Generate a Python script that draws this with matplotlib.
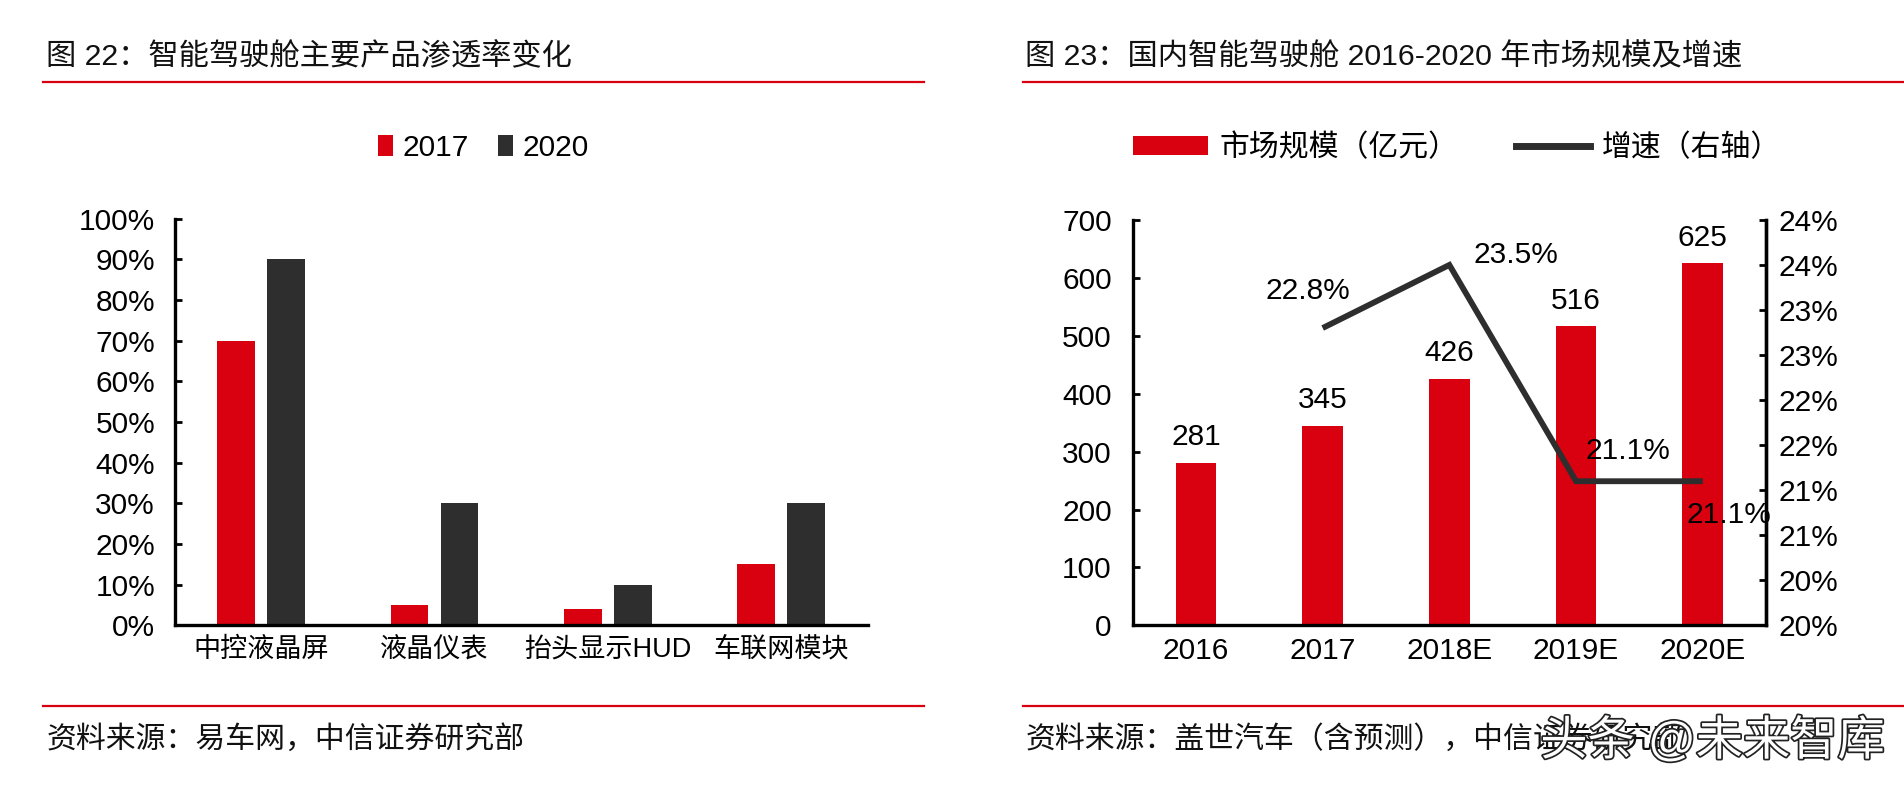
import matplotlib
matplotlib.use("Agg")
import matplotlib.pyplot as plt
import numpy as np
from matplotlib.patches import Patch
from matplotlib.lines import Line2D
import matplotlib.patheffects as pe

plt.rcParams['font.family'] = ['Liberation Sans', 'Noto Sans CJK SC', 'DejaVu Sans']

# ---------------- data ----------------
left_title = "图 22：智能驾驶舱主要产品渗透率变化"
left_source = "资料来源：易车网，中信证券研究部"
left_categories = ["中控液晶屏", "液晶仪表", "抬头显示HUD", "车联网模块"]
left_series_names = ["2017", "2020"]
pen_2017 = [0.70, 0.05, 0.04, 0.15]
pen_2020 = [0.90, 0.30, 0.10, 0.30]
left_yticks = [0.0, 0.1, 0.2, 0.3, 0.4, 0.5, 0.6, 0.7, 0.8, 0.9, 1.0]
left_ytick_labels = ["0%", "10%", "20%", "30%", "40%", "50%", "60%", "70%", "80%", "90%", "100%"]

right_title = "图 23：国内智能驾驶舱 2016-2020 年市场规模及增速"
right_source = "资料来源：盖世汽车（含预测），中信证券研究部"
years = ["2016", "2017", "2018E", "2019E", "2020E"]
market_size = [281, 345, 426, 516, 625]
growth_years = ["2017", "2018E", "2019E", "2020E"]
growth = [0.228, 0.235, 0.211, 0.211]
growth_labels = ["22.8%", "23.5%", "21.1%", "21.1%"]
bar_name = "市场规模（亿元）"
line_name = "增速（右轴）"
left_axis_ticks = [0, 100, 200, 300, 400, 500, 600, 700]
right_axis_ticks = [0.195, 0.200, 0.205, 0.210, 0.215, 0.220, 0.225, 0.230, 0.235, 0.240]
right_axis_labels = ["20%", "20%", "21%", "21%", "22%", "22%", "23%", "23%", "24%", "24%"]
watermark = "头条 @未来智库"

RED = "#D9000F"
DARK = "#2E2E2E"
FS = 21.5
TFS = 21.8

W, H = 1560.0, 650.0  # reference layout units
def fx(x): return x / W
def fy(y): return 1 - y / H

fig = plt.figure(figsize=(19.04, 7.94), dpi=100)

# ---------- decorations ----------
for x0, x1 in [(35, 757), (838, 1560)]:
    for yy in (67, 578):
        fig.add_artist(Line2D([fx(x0), fx(x1)], [fy(yy), fy(yy)], color=RED, lw=1.6,
                              transform=fig.transFigure))
fig.text(fx(38), fy(47), left_title, fontsize=TFS, va='center', ha='left', color='#111')
fig.text(fx(840), fy(47), right_title, fontsize=TFS, va='center', ha='left', color='#111')
fig.text(fx(38), fy(605), left_source, fontsize=21.5, va='center', ha='left', color='#111')
fig.text(fx(840), fy(605), right_source, fontsize=21.5, va='center', ha='left', color='#111')
fig.text(fx(1262), fy(607), watermark, fontsize=34, va='center', ha='left', color='white',
         path_effects=[pe.withStroke(linewidth=2.5, foreground='#222')])

# ---------- left chart ----------
ax1 = fig.add_axes([fx(143), fy(512), fx(711) - fx(143), fy(179) - fy(512)])
x = np.arange(len(left_categories))
bw = 0.218
off = 0.144
ax1.bar(x - off, pen_2017, width=bw, color=RED, label=left_series_names[0])
ax1.bar(x + off, pen_2020, width=bw, color=DARK, label=left_series_names[1])
ax1.set_xlim(-0.5, len(left_categories) - 0.5)
ax1.set_ylim(0, 1.0)
ax1.set_yticks(left_yticks)
ax1.set_yticklabels(left_ytick_labels)
ax1.set_xticks(x)
ax1.set_xticklabels(left_categories)
for s in ['top', 'right']:
    ax1.spines[s].set_visible(False)
for s in ['left', 'bottom']:
    ax1.spines[s].set_linewidth(2.4)
ax1.tick_params(axis='y', direction='in', length=5, width=2, labelsize=FS, pad=14)
ax1.tick_params(axis='x', length=0, labelsize=19.5, pad=8)

h1 = [Patch(facecolor=RED), Patch(facecolor=DARK)]
fig.legend(h1, left_series_names, loc='center', bbox_to_anchor=(fx(396), fy(121)), ncol=2,
           frameon=False, fontsize=FS, handlelength=0.5, handleheight=0.7,
           handletextpad=0.3, columnspacing=1.0)

# ---------- right chart ----------
ax2 = fig.add_axes([fx(928), fy(512), fx(1447) - fx(928), fy(180) - fy(512)])
xr = np.arange(len(years))
ax2.bar(xr, market_size, width=0.32, color=RED)
ax2.set_xlim(-0.5, len(years) - 0.5)
ax2.set_ylim(0, 700)
ax2.set_yticks(left_axis_ticks)
ax2.set_xticks(xr)
ax2.set_xticklabels(years)
for xi, v in zip(xr, market_size):
    ax2.text(xi, v + 20, str(v), ha='center', va='bottom', fontsize=FS)
ax2.spines['top'].set_visible(False)
for s in ['left', 'bottom', 'right']:
    ax2.spines[s].set_linewidth(2.4)
ax2.tick_params(axis='y', direction='in', length=5, width=2, labelsize=FS, pad=15)
ax2.tick_params(axis='x', length=0, labelsize=FS, pad=8)

ax3 = ax2.twinx()
gx = [years.index(g) for g in growth_years]
ax3.plot(gx, growth, color=DARK, lw=4.2, solid_joinstyle='miter', solid_capstyle='butt')
ax3.set_ylim(0.195, 0.240)
ax3.set_yticks(right_axis_ticks)
ax3.set_yticklabels(right_axis_labels)
for s in ['top', 'left', 'bottom']:
    ax3.spines[s].set_visible(False)
ax3.spines['right'].set_linewidth(2.4)
ax3.tick_params(axis='y', direction='in', length=5, width=2, labelsize=FS, pad=9)
label_offsets = [(-10.5, 27, 'center'), (17.5, 7, 'left'),
                 (7, 22, 'left'), (-12, -24.5, 'left')]
for xi, v, lab, (dx, dy, ha) in zip(gx, growth, growth_labels, label_offsets):
    ax3.annotate(lab, (xi, v), xytext=(dx, dy), textcoords='offset points',
                 ha=ha, va='center', fontsize=FS)

h2 = [Patch(facecolor=RED), Line2D([0], [0], color=DARK, lw=5)]
fig.legend(h2, [bar_name, line_name], loc='center', bbox_to_anchor=(fx(1194), fy(121)), ncol=2,
           frameon=False, fontsize=FS, handlelength=2.5, handleheight=0.6,
           handletextpad=0.4, columnspacing=1.9)

fig.savefig("out.png", dpi=100)
